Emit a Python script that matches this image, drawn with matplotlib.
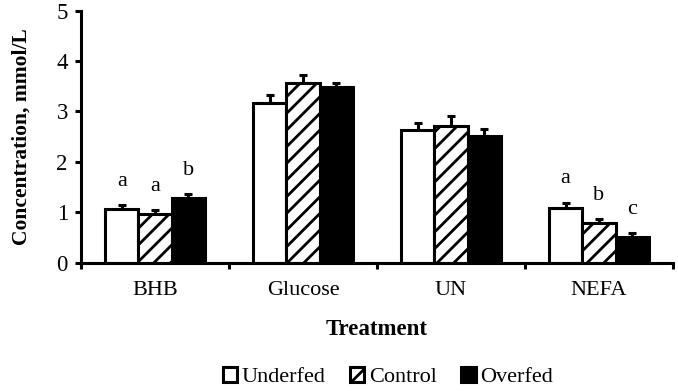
import matplotlib.pyplot as plt
import numpy as np

plt.rcParams["font.family"] = ["Liberation Serif", "DejaVu Serif"]
plt.rcParams["hatch.linewidth"] = 2.0

categories = ["BHB", "Glucose", "UN", "NEFA"]
series = ["Underfed", "Control", "Overfed"]
underfed = [1.06, 3.17, 2.63, 1.09]
control = [0.97, 3.57, 2.71, 0.79]
overfed = [1.29, 3.48, 2.51, 0.51]
underfed_err = [0.08, 0.15, 0.14, 0.10]
control_err = [0.07, 0.16, 0.20, 0.07]
overfed_err = [0.07, 0.09, 0.14, 0.07]
letters = {
    "Underfed": ["a", "", "", "a"],
    "Control": ["a", "", "", "b"],
    "Overfed": ["b", "", "", "c"],
}

fig = plt.figure(figsize=(6.78, 3.91), dpi=100)
ax = fig.add_axes([0.1195, 0.3286, 0.873, 0.6445])

x = np.arange(len(categories))
width = 0.225
styles = [
    dict(facecolor="white", hatch=None),
    dict(facecolor="white", hatch="//"),
    dict(facecolor="black", hatch=None),
]
values = [underfed, control, overfed]
errors = [underfed_err, control_err, overfed_err]

for i, (name, vals, errs, st) in enumerate(zip(series, values, errors, styles)):
    pos = x + (i - 1) * width
    ax.bar(pos, vals, width, color=st["facecolor"], hatch=st["hatch"],
           edgecolor="black", linewidth=2.2, label=name, zorder=2)
    ax.errorbar(pos, vals, yerr=[np.zeros(len(vals)), errs], fmt="none",
                ecolor="black", elinewidth=2.2, capsize=3, capthick=2.2, zorder=1)
    for p, v, e, lab in zip(pos, vals, errs, letters[name]):
        if lab:
            ax.text(p, v + e + 0.47, lab, ha="center", va="center", fontsize=16)

ax.set_xlim(-0.5, len(categories) - 0.5)
ax.set_ylim(0, 5)
ax.set_yticks(range(6))
ax.set_xticks(x)
ax.set_xticklabels(categories)
ax.set_xticks(np.arange(-0.5, len(categories), 1.0), minor=True)
ax.tick_params(axis="x", which="major", length=0, labelsize=16, pad=13)
ax.tick_params(axis="x", which="minor", length=4.5, width=2.2, direction="out")
ax.tick_params(axis="y", length=4.5, width=2.2, direction="out", labelsize=16.5, pad=5)
for side in ["top", "right"]:
    ax.spines[side].set_visible(False)
for side in ["left", "bottom"]:
    ax.spines[side].set_linewidth(2.2)

ax.set_ylabel("Concentration, mmol/L", fontsize=15.5, fontweight="bold", labelpad=18)
ax.set_xlabel("Treatment", fontsize=16.5, fontweight="bold", labelpad=14)

fig.legend(loc="center", bbox_to_anchor=(0.572, 0.035), ncol=3, frameon=False,
           fontsize=16, handlelength=0.65, handleheight=0.65, handletextpad=0.2,
           columnspacing=1.1, borderpad=0.1)

fig.savefig("out.png", dpi=100)
